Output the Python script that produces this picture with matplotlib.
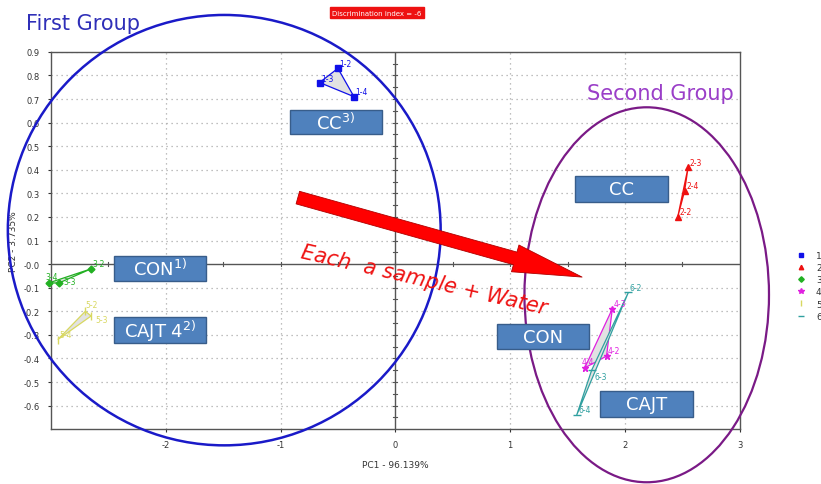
import numpy as np
import matplotlib
matplotlib.use('Agg')
from matplotlib import pyplot as plt
from matplotlib.patches import Ellipse, Rectangle, Polygon, FancyArrowPatch

#####################################
# PCA scores
g1_x = [-0.50, -0.66, -0.36]
g1_y = [0.83, 0.77, 0.71]
g1_lab = ['1-2', '1-3', '1-4']

g2_x = [2.46, 2.55, 2.52]
g2_y = [0.20, 0.41, 0.31]
g2_lab = ['2-2', '2-3', '2-4']

g3_x = [-2.65, -2.93, -3.02]
g3_y = [-0.02, -0.08, -0.08]
g3_lab = ['3-2', '3-3', '3-4']

g4_x = [1.84, 1.89, 1.65]
g4_y = [-0.39, -0.19, -0.44]
g4_lab = ['4-2', '4-3', '4-4']

g5_x = [-2.70, -2.65, -2.94]
g5_y = [-0.20, -0.22, -0.32]
g5_lab = ['5-2', '5-3', '5-4']

g6_x = [2.03, 1.71, 1.58]
g6_y = [-0.12, -0.45, -0.64]
g6_lab = ['6-2', '6-3', '6-4']

legend_lab = ['1', '2', '3', '4', '5', '6']
xticks = [-2, -1, 0, 1, 2, 3]
yticks = [-0.6, -0.5, -0.4, -0.3, -0.2, -0.1, 0.0, 0.1, 0.2, 0.3, 0.4, 0.5, 0.6, 0.7, 0.8, 0.9]
ytick_lab = ['-0.6', '-0.5', '-0.4', '-0.3', '-0.2', '-0.1', '-0.0', '0.1', '0.2', '0.3',
             '0.4', '0.5', '0.6', '0.7', '0.8', '0.9']

groups = [
    (g1_x, g1_y, g1_lab, '#1010e8', 's', 4),
    (g2_x, g2_y, g2_lab, '#ee1111', '^', 4),
    (g3_x, g3_y, g3_lab, '#22b022', 'D', 3.5),
    (g4_x, g4_y, g4_lab, '#e020e0', '*', 5),
    (g5_x, g5_y, g5_lab, '#d8d860', '|', 6),
    (g6_x, g6_y, g6_lab, '#30a0a0', '_', 6),
]
# label nudges (points) so the tiny tags don't sit on each other
nudge = {'3-4': (-2, 3), '3-3': (3, -1), '5-2': (0, 3), '5-3': (3, -4),
         '4-4': (-2, 3), '6-3': (2, -6), '1-3': (1, 1)}

fig = plt.figure(figsize=(8.21, 4.85), dpi=100)
ax = fig.add_axes([0.062, 0.113, 0.839, 0.778])
ax.set_xlim(-3.0, 3.0)
ax.set_ylim(-0.7, 0.9)

# grid + zero axes
for gx in [-2, -1, 1, 2]:
    ax.axvline(gx, color='#aaaaaa', ls=(0, (1, 3)), lw=0.9, zorder=0)
for gy in yticks:
    if gy != 0:
        ax.axhline(gy, color='#aaaaaa', ls=(0, (1, 3)), lw=0.9, zorder=0)
ax.axhline(0, color='#555555', lw=1.0, zorder=1)
ax.axvline(0, color='#555555', lw=1.0, zorder=1)
for t in np.arange(-2.5, 3.0, 0.5):
    ax.plot([t, t], [-0.008, 0.008], color='#555555', lw=0.8, zorder=1)
for t in np.arange(-0.65, 0.9, 0.05):
    ax.plot([-0.018, 0.018], [t, t], color='#555555', lw=0.8, zorder=1)

ax.set_xticks(xticks)
ax.set_xticklabels([str(v) for v in xticks])
ax.set_yticks(yticks)
ax.set_yticklabels(ytick_lab)
ax.tick_params(labelsize=6, colors='#333333', length=2, pad=6)
for s in ax.spines.values():
    s.set_color('#555555')
    s.set_linewidth(1.0)
ax.set_xlabel('PC1 - 96.139%', fontsize=6.5, color='#333333', labelpad=8)
ax.set_ylabel('PC2 - 3.735%', fontsize=6.5, color='#333333', labelpad=4)

handles = []
for xs, ys, labs, col, mk, ms in groups:
    poly = Polygon(np.column_stack([xs, ys]), closed=True, facecolor='#e2e2e2',
                   edgecolor=col, lw=0.9, zorder=2)
    ax.add_patch(poly)
    h, = ax.plot(xs, ys, ls='none', marker=mk, ms=ms, color=col, mec=col, zorder=3,
                 clip_on=False)
    handles.append(h)
    for x, y, l in zip(xs, ys, labs):
        ax.annotate(l, (x, y), xytext=nudge.get(l, (1, 2)), textcoords='offset points',
                    fontsize=5.5, color=col, zorder=4, annotation_clip=False)

leg = ax.legend(handles, legend_lab, loc='center left', bbox_to_anchor=(1.07, 0.38),
                frameon=False, fontsize=6.5, handlelength=1.0, handletextpad=1.2,
                labelspacing=0.35, markerscale=0.8)
for t in leg.get_texts():
    t.set_color('#333333')

# group circles
ax.add_patch(Ellipse((-1.49, 0.144), 3.77, 1.825, fill=False, edgecolor='#1a1ac8',
                     lw=1.8, zorder=5, clip_on=False))
ax.add_patch(Ellipse((2.19, -0.13), 2.13, 1.59, fill=False, edgecolor='#7a1a86',
                     lw=1.6, zorder=5, clip_on=False))

# sample boxes
boxes = [(-0.92, 0.55, 0.80, 0.105, 'CC$^{3)}$'),
         (-2.45, -0.072, 0.805, 0.106, 'CON$^{1)}$'),
         (-2.45, -0.335, 0.805, 0.11, 'CAJT 4$^{2)}$'),
         (1.566, 0.263, 0.805, 0.11, 'CC'),
         (0.884, -0.361, 0.805, 0.106, 'CON'),
         (1.785, -0.649, 0.805, 0.11, 'CAJT')]
for bx, by, bw, bh, txt in boxes:
    ax.add_patch(Rectangle((bx, by), bw, bh, facecolor='#4f81bd', edgecolor='#385d8a',
                           lw=1.0, zorder=6))
    ax.text(bx + bw / 2, by + bh / 2, txt, color='white', fontsize=13,
            ha='center', va='center', zorder=7)

# arrow
arr = FancyArrowPatch((-0.849, 0.282), (1.627, -0.055),
                      arrowstyle='simple,tail_width=0.94,head_width=2.0,head_length=5.0',
                      mutation_scale=10, shrinkA=0, shrinkB=0,
                      facecolor='#ff0000', edgecolor='#b00000', lw=0.6, zorder=8)
ax.add_patch(arr)
ax.text(-0.83, 0.03, 'Each  a sample + Water', color='#ee1111', fontsize=15,
        style='italic', rotation=-13, rotation_mode='anchor', ha='left',
        va='baseline', zorder=8)

# titles
fig.text(26 / 821, 1 - 30 / 485, 'First Group', color='#2f2fb8', fontsize=15)
fig.text(587 / 821, 1 - 100 / 485, 'Second Group', color='#9a3ec8', fontsize=15)
fig.text(377 / 821, 1 - 13.5 / 485, 'Discrimination index = -6', color='white',
         fontsize=5, ha='center', va='center',
         bbox=dict(boxstyle='square,pad=0.4', facecolor='#ee1111', edgecolor='#ee1111'))

fig.savefig('out.png', dpi=100)
